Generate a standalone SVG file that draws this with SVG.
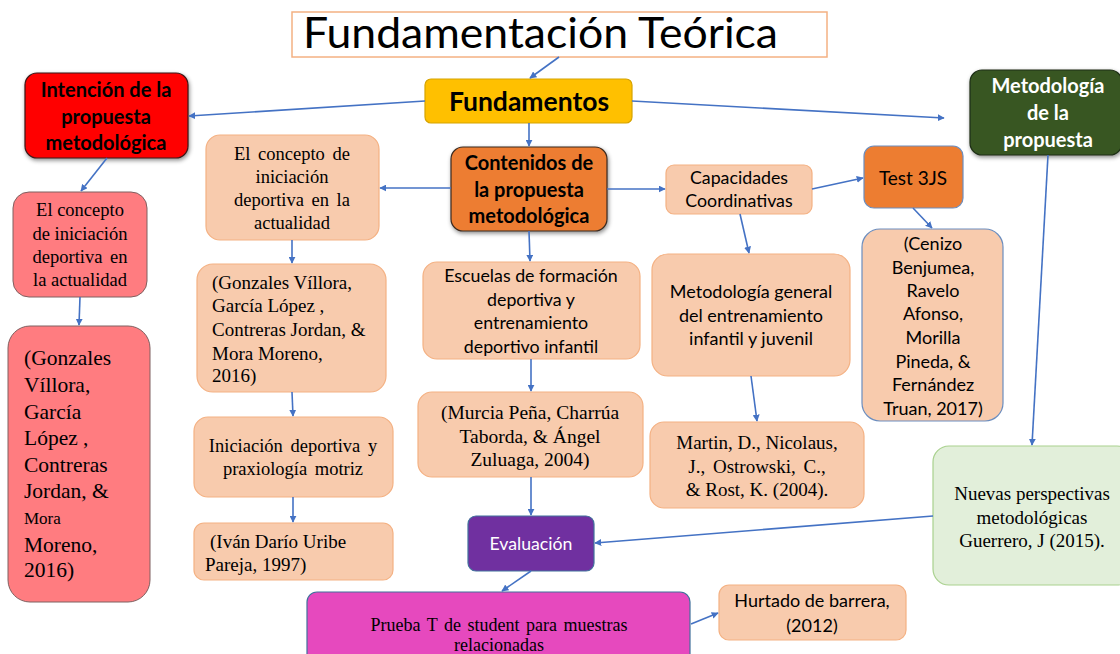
<svg xmlns="http://www.w3.org/2000/svg" width="1120" height="654" viewBox="0 0 1120 654">
<defs>
<marker id="ah" viewBox="0 0 10 10" refX="9" refY="5" markerWidth="7" markerHeight="7" orient="auto" markerUnits="userSpaceOnUse">
<path d="M0,0 L10,5 L0,10 z" fill="#4472C4"/>
</marker>
<filter id="sh" x="-10%" y="-10%" width="125%" height="130%">
<feDropShadow dx="1" dy="2" stdDeviation="2" flood-color="#000" flood-opacity="0.45"/>
</filter>
<style>
.c{stroke:#4472C4;stroke-width:1.6;fill:none;marker-end:url(#ah)}
.sans{font-family:Lato,"Open Sans","Liberation Sans",sans-serif}
.serif{font-family:"Liberation Serif","Times New Roman",serif}
.peach{fill:#F8CBAD;stroke:#F4B183;stroke-width:1.2}
.pink{fill:#FF7C80;stroke:#7F6060;stroke-width:1}
.mid{text-anchor:middle}
</style>
</defs>
<rect width="1120" height="654" fill="#fff"/>

<g id="title">
<rect x="292" y="12" width="535" height="45" fill="#fff" stroke="#F4B183" stroke-width="1.5"/>
<text x="303" y="48" class="sans" font-size="42" fill="#000" textLength="475" lengthAdjust="spacingAndGlyphs">Fundamentación Teórica</text>
</g>

<g id="fundamentos">
<rect x="425" y="79" width="207" height="44" rx="6" fill="#FFC000" stroke="#D6A300" stroke-width="1.2"/>
<text x="529" y="111" class="sans mid" font-size="26.5" font-weight="bold" fill="#000">Fundamentos</text>
</g>

<g id="intencion">
<rect x="25" y="73" width="163" height="85" rx="12" fill="#FF0000" stroke="#3a1a1a" stroke-width="1.2" filter="url(#sh)"/>
<g class="sans mid" font-size="20" font-weight="bold" fill="#000">
<text x="106" y="97">Intención de la</text>
<text x="106" y="124">propuesta</text>
<text x="106" y="150">metodológica</text>
</g>
</g>

<g id="metodologia">
<rect x="970" y="70" width="152" height="85" rx="12" fill="#375623" stroke="#1e2e14" stroke-width="1.2" filter="url(#sh)"/>
<g class="sans mid" font-size="20" font-weight="bold" fill="#fff">
<text x="1048" y="93">Metodología</text>
<text x="1048" y="120">de la</text>
<text x="1048" y="147">propuesta</text>
</g>
</g>

<g id="contenidos">
<rect x="451" y="147" width="156" height="84" rx="12" fill="#ED7D31" stroke="#3a2a20" stroke-width="1.2" filter="url(#sh)"/>
<g class="sans mid" font-size="20" font-weight="bold" fill="#000">
<text x="529" y="170">Contenidos de</text>
<text x="529" y="197">la propuesta</text>
<text x="529" y="223">metodológica</text>
</g>
</g>

<g id="concepto-mid">
<rect x="206" y="135" width="173" height="105" rx="14" class="peach"/>
<g class="serif mid" font-size="18.5" fill="#000">
<text x="292" y="160" word-spacing="3">El concepto de</text>
<text x="292" y="183">iniciación</text>
<text x="292" y="206" word-spacing="3">deportiva en la</text>
<text x="292" y="229">actualidad</text>
</g>
</g>

<g id="gonzales-mid">
<rect x="197" y="264" width="189" height="128" rx="16" class="peach"/>
<g class="serif" font-size="19" fill="#000">
<text x="212" y="289">(Gonzales Víllora,</text>
<text x="212" y="312">García López ,</text>
<text x="212" y="336">Contreras Jordan, &amp;</text>
<text x="212" y="360">Mora Moreno,</text>
<text x="212" y="382">2016)</text>
</g>
</g>

<g id="iniciacion">
<rect x="194" y="417" width="199" height="80" rx="14" class="peach"/>
<g class="serif mid" font-size="18.5" fill="#000">
<text x="293" y="452" word-spacing="3">Iniciación deportiva y</text>
<text x="293" y="475" word-spacing="3">praxiología motriz</text>
</g>
</g>

<g id="ivan">
<rect x="194" y="523" width="199" height="57" rx="10" class="peach"/>
<g class="serif" font-size="19" fill="#000">
<text x="210" y="548">(Iván Darío Uribe</text>
<text x="205" y="571">Pareja, 1997)</text>
</g>
</g>

<g id="concepto-left">
<rect x="13" y="192" width="134" height="105" rx="16" class="pink"/>
<g class="serif mid" font-size="18.5" fill="#000">
<text x="80" y="216">El concepto</text>
<text x="80" y="240">de iniciación</text>
<text x="80" y="263" word-spacing="3">deportiva en</text>
<text x="80" y="286">la actualidad</text>
</g>
</g>

<g id="gonzales-left">
<rect x="8" y="326" width="142" height="276" rx="22" class="pink"/>
<g class="serif" font-size="21.5" fill="#000">
<text x="24" y="365">(Gonzales</text>
<text x="24" y="392">Víllora,</text>
<text x="24" y="419">García</text>
<text x="24" y="445">López ,</text>
<text x="24" y="472">Contreras</text>
<text x="24" y="498">Jordan, &amp;</text>
<text x="24" y="524" font-size="17">Mora</text>
<text x="24" y="552">Moreno,</text>
<text x="24" y="577">2016)</text>
</g>
</g>

<g id="escuelas">
<rect x="423" y="262" width="217" height="97" rx="14" class="peach"/>
<g class="sans mid" font-size="17.8" fill="#000">
<text x="531" y="282">Escuelas de formación</text>
<text x="531" y="306">deportiva y</text>
<text x="531" y="329">entrenamiento</text>
<text x="531" y="353">deportivo infantil</text>
</g>
</g>

<g id="murcia">
<rect x="418" y="392" width="225" height="85" rx="14" class="peach"/>
<g class="serif mid" font-size="19.5" fill="#000">
<text x="530" y="419">(Murcia Peña, Charrúa</text>
<text x="530" y="443">Taborda, &amp; Ángel</text>
<text x="530" y="466">Zuluaga, 2004)</text>
</g>
</g>

<g id="evaluacion">
<rect x="468" y="516" width="126" height="55" rx="8" fill="#7030A0" stroke="#41719C" stroke-width="1.2"/>
<text x="531" y="550" class="sans mid" font-size="17.7" fill="#fff">Evaluación</text>
</g>

<g id="prueba">
<rect x="307" y="592" width="383" height="80" rx="10" fill="#E649BE" stroke="#41719C" stroke-width="1.2"/>
<g class="serif mid" font-size="18" fill="#000">
<text x="499" y="631" word-spacing="2">Prueba T de student para muestras</text>
<text x="499" y="651">relacionadas</text>
</g>
</g>

<g id="hurtado">
<rect x="719" y="585" width="187" height="55" rx="10" class="peach"/>
<g class="sans mid" font-size="18" fill="#000">
<text x="812" y="607">Hurtado de barrera,</text>
<text x="812" y="632">(2012)</text>
</g>
</g>

<g id="capacidades">
<rect x="666" y="165" width="146" height="49" rx="8" class="peach"/>
<g class="sans mid" font-size="17.8" fill="#000">
<text x="739" y="184">Capacidades</text>
<text x="739" y="207">Coordinativas</text>
</g>
</g>

<g id="test3js">
<rect x="864" y="146" width="99" height="62" rx="10" fill="#ED7D31" stroke="#6C8EBF" stroke-width="1.2"/>
<text x="913" y="185" class="sans mid" font-size="19" fill="#000">Test 3JS</text>
</g>

<g id="cenizo">
<rect x="862" y="229" width="141" height="192" rx="18" fill="#F8CBAD" stroke="#6C8EBF" stroke-width="1.2"/>
<g class="sans mid" font-size="18" fill="#000">
<text x="933" y="250">(Cenizo</text>
<text x="933" y="274">Benjumea,</text>
<text x="933" y="297">Ravelo</text>
<text x="933" y="320">Afonso,</text>
<text x="933" y="344">Morilla</text>
<text x="933" y="368">Pineda, &amp;</text>
<text x="933" y="391">Fernández</text>
<text x="933" y="415">Truan, 2017)</text>
</g>
</g>

<g id="metodologia-general">
<rect x="652" y="254" width="198" height="122" rx="16" class="peach"/>
<g class="sans mid" font-size="18" fill="#000">
<text x="751" y="298">Metodología general</text>
<text x="751" y="322">del entrenamiento</text>
<text x="751" y="345">infantil y juvenil</text>
</g>
</g>

<g id="martin">
<rect x="650" y="422" width="214" height="86" rx="14" class="peach"/>
<g class="serif mid" font-size="19" fill="#000">
<text x="757" y="449">Martin, D., Nicolaus,</text>
<text x="757" y="473" word-spacing="3">J., Ostrowski, C.,</text>
<text x="757" y="496">&amp; Rost, K. (2004).</text>
</g>
</g>

<g id="nuevas">
<rect x="933" y="446" width="200" height="139" rx="16" fill="#E2EFDA" stroke="#A9D18E" stroke-width="1.2"/>
<g class="serif mid" font-size="19" fill="#000">
<text x="1032" y="500">Nuevas perspectivas</text>
<text x="1032" y="524">metodológicas</text>
<text x="1032" y="547">Guerrero, J (2015).</text>
</g>
</g>

<g id="connectors">
<line class="c" x1="559" y1="57" x2="530" y2="78"/>
<line class="c" x1="425" y1="101" x2="189" y2="116"/>
<line class="c" x1="632" y1="101" x2="944" y2="118"/>
<line class="c" x1="529" y1="123" x2="529" y2="146"/>
<line class="c" x1="107" y1="158" x2="81" y2="191"/>
<line class="c" x1="80" y1="297" x2="79" y2="325"/>
<line class="c" x1="451" y1="188" x2="380" y2="188"/>
<line class="c" x1="292" y1="240" x2="292" y2="263"/>
<line class="c" x1="292" y1="392" x2="293" y2="416"/>
<line class="c" x1="293" y1="497" x2="293" y2="522"/>
<line class="c" x1="529" y1="231" x2="530" y2="261"/>
<line class="c" x1="531" y1="359" x2="531" y2="391"/>
<line class="c" x1="531" y1="477" x2="531" y2="515"/>
<line class="c" x1="531" y1="571" x2="502" y2="591"/>
<line class="c" x1="691" y1="624" x2="718" y2="613"/>
<line class="c" x1="607" y1="189" x2="665" y2="189"/>
<line class="c" x1="812" y1="189" x2="863" y2="178"/>
<line class="c" x1="913" y1="208" x2="932" y2="228"/>
<line class="c" x1="740" y1="214" x2="749" y2="253"/>
<line class="c" x1="751" y1="376" x2="757" y2="421"/>
<line class="c" x1="1048" y1="155" x2="1032" y2="445"/>
<line class="c" x1="933" y1="516" x2="595" y2="543"/>
</g>
</svg>
